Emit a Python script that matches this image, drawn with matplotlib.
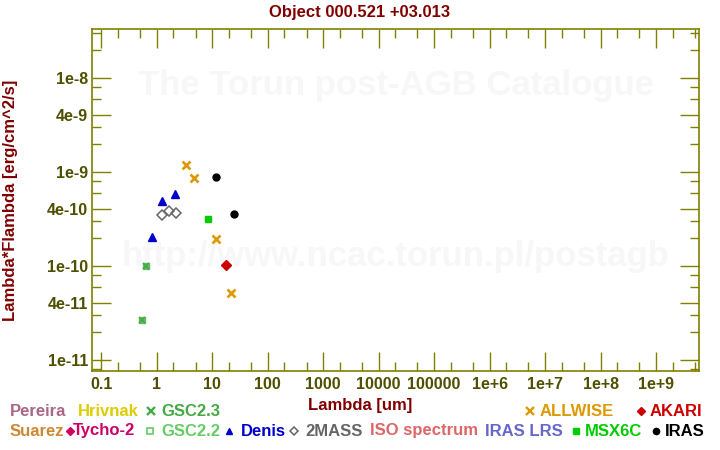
import matplotlib
matplotlib.use('Agg')
import matplotlib.pyplot as plt
from matplotlib.lines import Line2D
from matplotlib.ticker import FixedLocator, FixedFormatter, NullFormatter

plt.rcParams['font.family'] = ['Liberation Sans', 'DejaVu Sans']
plt.rcParams['font.weight'] = 'bold'

# photometry, wavelength in um, lambda*F_lambda in erg/cm^2/s
gsc22_wl = [0.54, 0.64]
gsc22_flux = [2.65e-11, 1.0e-10]
gsc23_wl = [0.54, 0.64]
gsc23_flux = [2.65e-11, 1.0e-10]
denis_wl = [0.81, 1.23, 2.15]
denis_flux = [2.05e-10, 4.95e-10, 5.8e-10]
tmass_wl = [1.245, 1.65, 2.18]
tmass_flux = [3.46e-10, 3.82e-10, 3.64e-10]
allwise_wl = [3.4, 4.6, 11.7, 22.0]
allwise_flux = [1.18e-9, 8.6e-10, 1.92e-10, 5.1e-11]
msx_wl = [8.45]
msx_flux = [3.14e-10]
akari_wl = [17.9]
akari_flux = [1.02e-10]
iras_wl = [11.8, 24.9]
iras_flux = [8.8e-10, 3.55e-10]

x_major = [0.1, 1, 10, 100, 1000, 1e4, 1e5, 1e6, 1e7, 1e8, 1e9]
x_labels = ['0.1', '1', '10', '100', '1000', '10000', '100000',
            '1e+6', '1e+7', '1e+8', '1e+9']
y_major = [1e-11, 4e-11, 1e-10, 4e-10, 1e-9, 4e-9, 1e-8]
y_labels = ['1e-11', '4e-11', '1e-10', '4e-10', '1e-9', '4e-9', '1e-8']

olive = '#808000'
ticktxt = '#4f4f00'
darkred = '#800000'

fig = plt.figure(figsize=(7.2, 4.5), dpi=100)
W, H = 720, 450
ax = fig.add_axes([92.3 / W, 1 - 371 / H, (699.3 - 92.3) / W, (371 - 29.3) / H])
ax.set_xscale('log')
ax.set_yscale('log')
ax.set_xlim(0.0689, 6.0e9)
ax.set_ylim(7.6e-12, 3.3e-8)

# watermark
ax.text(0.5, 0.835, 'The Torun post-AGB Catalogue', transform=ax.transAxes,
        ha='center', va='center', fontsize=25, color='#f7f7f7', zorder=0)
ax.text(0.5, 0.335, 'http://www.ncac.torun.pl/postagb', transform=ax.transAxes,
        ha='center', va='center', fontsize=25, color='#f7f7f7', zorder=0)

ax.plot(gsc22_wl, gsc22_flux, 's', ms=5, mfc='#66bb66', mec='#66bb66', mew=1)
ax.plot(gsc23_wl, gsc23_flux, 'x', ms=5, mec='#44aa44', mew=1.2)
ax.plot(denis_wl, denis_flux, '^', ms=6, color='#0000cc')
ax.plot(tmass_wl, tmass_flux, 'D', ms=5, mfc='none', mec='#666666', mew=1.1)
ax.plot(allwise_wl, allwise_flux, 'x', ms=6, mec='#dd9900', mew=1.9)
ax.plot(msx_wl, msx_flux, 's', ms=5, color='#00cc00')
ax.plot(akari_wl, akari_flux, 'D', ms=5.5, color='#cc0000')
ax.plot(iras_wl, iras_flux, 'o', ms=5, color='black')

ax.xaxis.set_major_locator(FixedLocator(x_major))
ax.xaxis.set_major_formatter(FixedFormatter(x_labels))
x_minor = [m * 10.0 ** e for e in range(-2, 10) for m in (2, 5)]
ax.xaxis.set_minor_locator(FixedLocator(x_minor))
ax.xaxis.set_minor_formatter(NullFormatter())
ax.yaxis.set_major_locator(FixedLocator(y_major))
ax.yaxis.set_major_formatter(FixedFormatter(y_labels))
y_minor = [m * 10.0 ** e for e in range(-12, -7) for m in (2, 3, 6, 8)]
ax.yaxis.set_minor_locator(FixedLocator(y_minor))
ax.yaxis.set_minor_formatter(NullFormatter())

ax.tick_params(which='both', direction='in', top=True, right=True,
               color=olive, width=1, labelsize=11.5, labelcolor=ticktxt)
ax.tick_params(which='major', length=13.5)
ax.tick_params(which='minor', length=6.5)
ax.tick_params(axis='x', pad=4)
ax.tick_params(axis='y', pad=3)
for s in ax.spines.values():
    s.set_color(olive)
    s.set_linewidth(1.2)

fig.text(0.5, 1 - 16.5 / H, 'Object 000.521 +03.013', ha='center', va='baseline',
         fontsize=12, color=darkred)
fig.text(360 / W, 1 - 410 / H, 'Lambda [um]', ha='center', va='baseline',
         fontsize=12, color=darkred)
fig.text(11 / W, 1 - 200 / H, 'Lambda*Flambda [erg/cm^2/s]', ha='center', va='center',
         rotation=90, fontsize=12, color=darkred)

# legend row by row: (text x, row baseline, label, colour, marker, marker x)
legend_items = [
    (10, 415.5, 'Pereira', '#aa6688', None, None),
    (78, 415.5, 'Hrivnak', '#ddcc00', None, None),
    (161, 415.5, 'GSC2.3', '#44aa44', 'x', 150.5),
    (540, 415.5, 'ALLWISE', '#dd9900', 'x', 529.5),
    (650, 415.5, 'AKARI', '#cc0000', 'D', 641),
    (10, 435.5, 'Suarez', '#cc8833', None, None),
    (73, 435.5, 'Tycho-2', '#cc0066', 'D', 69.5),
    (161, 435.5, 'GSC2.2', '#66cc66', 's', 150),
    (241, 435.5, 'Denis', '#0000cc', '^', 228.5),
    (305, 435.5, '2MASS', '#666666', 'd', 294),
    (370, 435.5, 'ISO spectrum', '#dd6666', None, None),
    (485, 435.5, 'IRAS LRS', '#6666cc', None, None),
    (585, 435.5, 'MSX6C', '#00cc00', 's', 575.5),
    (665, 435.5, 'IRAS', 'black', 'o', 655.5),
]
for tx, ty, label, col, mk, mx in legend_items:
    fig.text(tx / W, 1 - ty / H, label, ha='left', va='baseline',
             fontsize=12, color=col)
    if mk is None:
        continue
    my = 1 - (ty - 5) / H
    if label == 'GSC2.2':
        ln = Line2D([mx / W], [my], marker='s', ms=4, mfc='none', mec=col, mew=1.2,
                    transform=fig.transFigure)
    elif label == '2MASS':
        ln = Line2D([mx / W], [my], marker='D', ms=4, mfc='none', mec=col, mew=1.1,
                    transform=fig.transFigure)
    elif mk == 'x':
        ln = Line2D([mx / W], [my], marker='x', ms=5.5, mec=col, mew=1.7,
                    transform=fig.transFigure)
    else:
        ln = Line2D([mx / W], [my], marker=mk, ms=4.5, color=col,
                    transform=fig.transFigure)
    fig.add_artist(ln)

fig.savefig('out.png', dpi=100)
